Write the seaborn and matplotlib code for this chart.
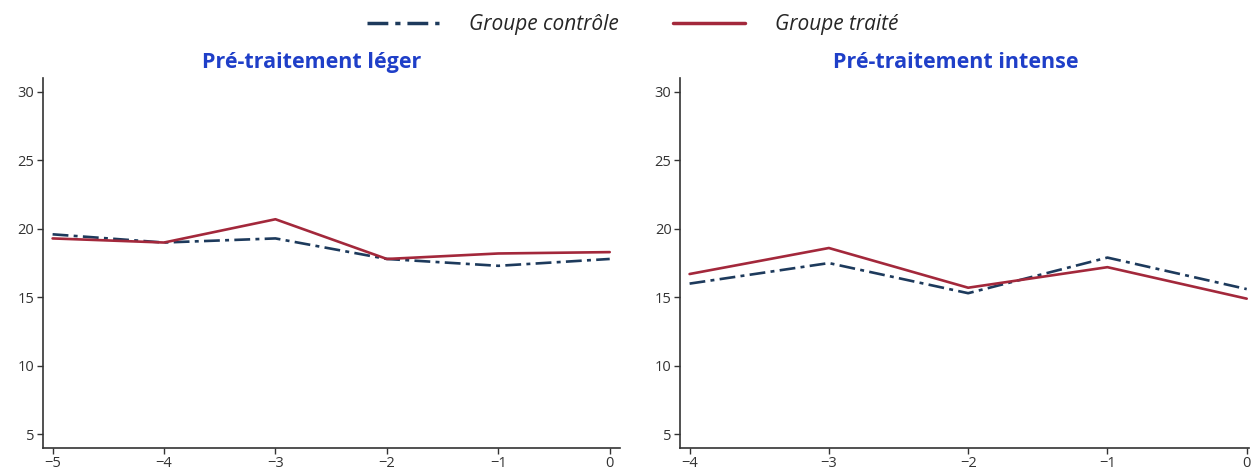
import matplotlib
matplotlib.use("Agg")
import matplotlib.pyplot as plt
import seaborn as sns
import pandas as pd
from matplotlib.lines import Line2D

# Data
x_leger = [-5, -4, -3, -2, -1, 0]
controle_leger = [19.6, 19.0, 19.3, 17.8, 17.3, 17.8]
traite_leger = [19.3, 19.0, 20.7, 17.8, 18.2, 18.3]

x_intense = [-4, -3, -2, -1, 0]
controle_intense = [16.0, 17.5, 15.3, 17.9, 15.6]
traite_intense = [16.7, 18.6, 15.7, 17.2, 14.9]

yticks = [5, 10, 15, 20, 25, 30]
titles = ["Pré-traitement léger", "Pré-traitement intense"]
labels = ["Groupe contrôle", "Groupe traité"]

sns.set_theme(style="white")
plt.rcParams['font.family'] = ['Open Sans', 'DejaVu Sans']

c_ctrl = "#1d3a5c"
c_trt = "#a3283b"

fig = plt.figure(figsize=(12.52, 4.74), dpi=100)
ax1 = fig.add_axes([0.034, 0.055, 0.461, 0.780])
ax2 = fig.add_axes([0.543, 0.055, 0.455, 0.780])

def build(x, c, t):
    return pd.DataFrame({
        "x": list(x) * 2,
        "y": list(c) + list(t),
        "g": [labels[0]] * len(x) + [labels[1]] * len(x),
    })

panels = [
    (ax1, build(x_leger, controle_leger, traite_leger), (-5.09, 0.09), titles[0], 0.466),
    (ax2, build(x_intense, controle_intense, traite_intense), (-4.07, 0.02), titles[1], 0.484),
]

for ax, df, xl, title, tx in panels:
    sub_c = df[df.g == labels[0]]
    sub_t = df[df.g == labels[1]]
    sns.lineplot(data=sub_c, x="x", y="y", ax=ax, color=c_ctrl, lw=1.9,
                 linestyle=(0, (6, 2, 1.5, 2)), legend=False)
    sns.lineplot(data=sub_t, x="x", y="y", ax=ax, color=c_trt, lw=1.9, legend=False)
    ax.set_xlim(*xl)
    ax.set_ylim(4.0, 31.0)
    ax.set_yticks(yticks)
    ax.set_xticks(sorted(set(df.x)))
    ax.set_xlabel("")
    ax.set_ylabel("")
    ax.set_title(title, color="#1f3fc8", fontweight="bold", fontsize=15.5, pad=7, x=tx)
    for s in ["top", "right"]:
        ax.spines[s].set_visible(False)
    for s in ["left", "bottom"]:
        ax.spines[s].set_color("#333333")
        ax.spines[s].set_linewidth(1.2)
    ax.tick_params(axis="both", which="both", direction="out", length=4, width=1,
                   colors="#333333", labelsize=10.5, left=True, bottom=True)
    ax.tick_params(axis="y", pad=2)
    ax.tick_params(axis="x", pad=2)

handles = [
    Line2D([0], [0], color=c_ctrl, lw=2.5, linestyle=(0, (6, 2, 1.5, 2))),
    Line2D([0], [0], color=c_trt, lw=2.5),
]
leg = fig.legend(handles, labels, loc="upper center", bbox_to_anchor=(0.505, 1.01),
                 ncol=2, frameon=False, handlelength=3.5, handletextpad=1.4,
                 columnspacing=2.6, prop={"style": "italic", "size": 15})

fig.savefig("out.png", dpi=100)
